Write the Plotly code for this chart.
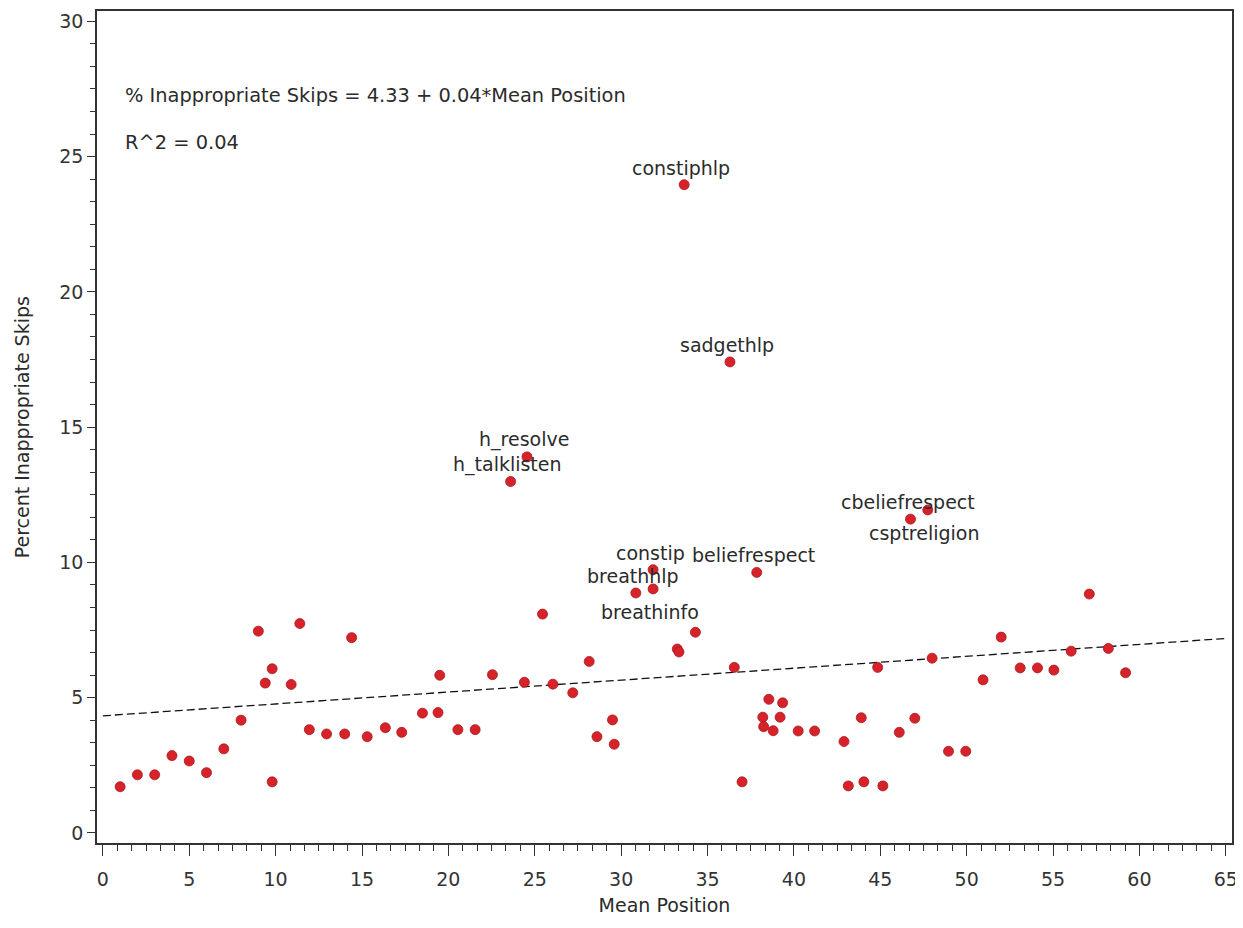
import plotly.graph_objects as go

# ---- data ----
mean_pos = [1.0, 2.0, 3.0, 4.0, 5.0, 6.0, 7.0, 8.0, 9.0, 9.4, 9.8, 9.8,
            10.9, 11.4, 11.95, 12.95, 14.0, 14.4, 15.3, 16.35, 17.3, 18.5, 19.4, 19.5,
            20.55, 21.55, 22.55, 24.4, 25.45, 26.05, 27.2, 28.15, 28.6, 29.5, 29.6,
            33.25, 33.35, 34.3, 36.55, 37.0, 38.2, 38.25, 38.55, 38.8, 39.2, 39.35,
            40.25, 41.2, 42.9, 43.15, 43.9, 44.05, 44.85, 45.15, 46.1, 47.0, 48.0,
            48.95, 49.95, 50.95, 52.0, 53.1, 54.1, 55.05, 56.05, 57.1, 58.2, 59.2]
pct_skips = [1.71, 2.15, 2.15, 2.86, 2.66, 2.23, 3.11, 4.17, 7.46, 5.54, 6.07, 1.89,
             5.49, 7.74, 3.82, 3.66, 3.66, 7.22, 3.56, 3.89, 3.72, 4.43, 4.45, 5.83,
             3.82, 3.82, 5.85, 5.57, 8.09, 5.50, 5.18, 6.34, 3.56, 4.18, 3.28,
             6.80, 6.69, 7.42, 6.12, 1.89, 4.28, 3.93, 4.94, 3.78, 4.28, 4.81,
             3.77, 3.77, 3.38, 1.74, 4.26, 1.89, 6.12, 1.74, 3.72, 4.24, 6.46,
             3.02, 3.02, 5.66, 7.24, 6.10, 6.10, 6.02, 6.72, 8.83, 6.82, 5.92]

label_names = ["constiphlp", "sadgethlp", "h_resolve", "h_talklisten", "cbeliefrespect",
               "csptreligion", "constip", "breathhlp", "breathinfo", "beliefrespect"]
label_x = [33.65, 36.3, 24.55, 23.6, 46.75, 47.75, 31.85, 30.85, 31.85, 37.85]
label_y = [23.96, 17.41, 13.9, 12.99, 11.6, 11.94, 9.73, 8.87, 9.02, 9.63]
label_side = ["above", "above", "above", "above", "above",
              "below", "above", "above", "below", "above"]

reg_intercept = 4.33
reg_slope = 0.044
reg_x = [0, 65]

eq_text = "% Inappropriate Skips = 4.33 + 0.04*Mean Position"
r2_text = "R^2 = 0.04"
x_title = "Mean Position"
y_title = "Percent Inappropriate Skips"

x_ticks = list(range(0, 70, 5))
y_ticks = list(range(0, 35, 5))

# ---- figure ----
FONT = "DejaVu Sans"
TXT = "#2b2b2b"
RED = "#d7222a"

fig = go.Figure()

fig.add_trace(go.Scatter(
    x=reg_x, y=[reg_intercept + reg_slope * v for v in reg_x],
    mode="lines", line=dict(color="#111111", width=1.3, dash="8px,4px"),
    hoverinfo="skip", showlegend=False))

fig.add_trace(go.Scatter(
    x=mean_pos + label_x, y=pct_skips + label_y, mode="markers",
    marker=dict(size=10, color=RED, line=dict(color="#a81a20", width=0.8)),
    showlegend=False))

for name, x, y, side in zip(label_names, label_x, label_y, label_side):
    fig.add_annotation(x=x, y=y, text=name, showarrow=False,
                       xanchor="center", yanchor="middle",
                       xshift=-3, yshift=(17 if side == "above" else -23),
                       font=dict(family=FONT, size=19, color=TXT))

fig.add_annotation(x=0.023, y=27.25, xref="paper", yref="y", text=eq_text,
                   showarrow=False, xanchor="left", yanchor="middle",
                   font=dict(family=FONT, size=19.4, color=TXT))
fig.add_annotation(x=0.023, y=25.53, xref="paper", yref="y", text=r2_text,
                   showarrow=False, xanchor="left", yanchor="middle",
                   font=dict(family=FONT, size=19.4, color=TXT))

# y-axis title placed as a rotated annotation for exact placement
fig.add_annotation(x=-0.0658, y=0.5, xref="paper", yref="paper", text=y_title,
                   textangle=-90, showarrow=False, xanchor="center", yanchor="middle",
                   font=dict(family=FONT, size=19, color=TXT))

axis_common = dict(
    showgrid=False, zeroline=False, showline=True, mirror=True,
    linecolor="#333333", linewidth=1.5,
    ticks="outside", tickcolor="#333333", tickwidth=1,
    tickfont=dict(family=FONT, size=19, color="#333333"),
)

fig.update_xaxes(
    range=[-0.34, 65.36], tickvals=x_ticks, ticklen=11, ticklabelstandoff=7,
    minor=dict(dtick=5 / 6, tick0=0, ticks="outside", ticklen=6,
               tickcolor="#333333", tickwidth=1, showgrid=False),
    title=dict(text=x_title, font=dict(family=FONT, size=19, color=TXT),
               standoff=10),
    **axis_common)
fig.update_yaxes(
    range=[-0.37, 30.38], tickvals=y_ticks, ticklen=8,
    minor=dict(dtick=5 / 6, tick0=0, ticks="outside", ticklen=5,
               tickcolor="#333333", tickwidth=1, showgrid=False),
    **axis_common)

# the page body adds an 8px margin; figure positioned so the frame lands where the reference has it
fig.update_layout(
    width=1235, height=920,
    margin=dict(l=89, r=11, t=1, b=85),
    plot_bgcolor="white", paper_bgcolor="white",
    font=dict(family=FONT, color=TXT),
)

fig.write_html("out.html")
